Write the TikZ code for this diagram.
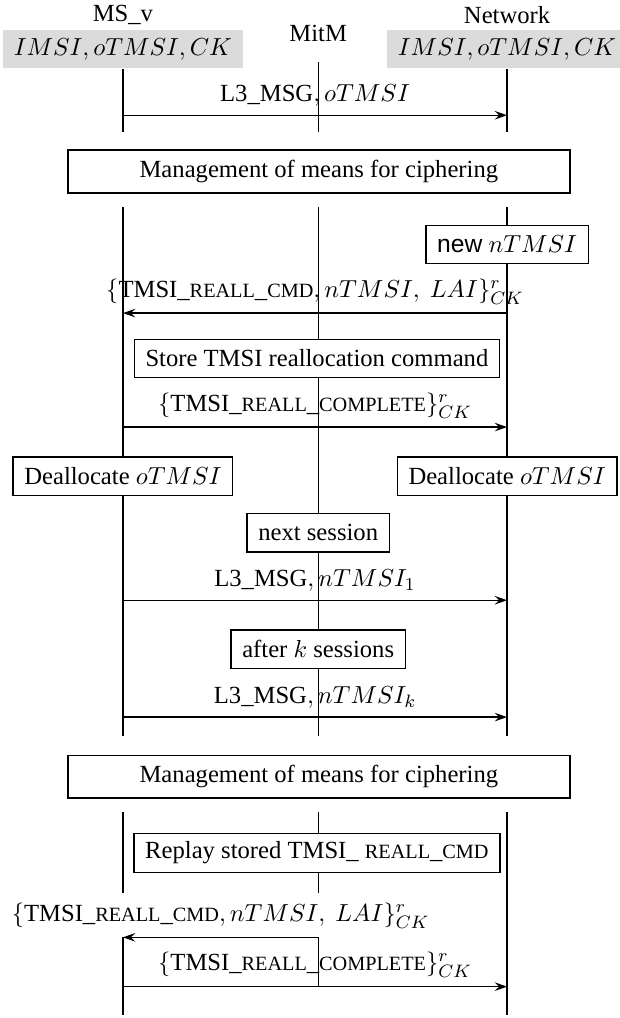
\documentclass[tikz,border=0pt,11pt]{standalone}
\usepackage[no-math]{fontspec}
\setmainfont{Liberation Serif}
\setsansfont{Liberation Sans}
\usetikzlibrary{arrows.meta}

\newcommand{\fsc}[1]{{\footnotesize #1}}

\begin{document}
\begin{tikzpicture}[
    box/.style={draw, line width=0.6pt, fill=white, inner xsep=5pt, minimum height=0.6cm},
    wide/.style={box, minimum width=7.84cm, minimum height=0.67cm},
    keys/.style={fill=black!14, inner xsep=5pt, minimum height=0.56cm},
    life/.style={line width=0.6pt},
    msg/.style={line width=0.6pt, -{Stealth[length=5.5pt,width=3.8pt,inset=2pt]}},
  ]
  \useasboundingbox (-1.92,-15.9) rectangle (7.75,0);

  % parties
  \node (ms) at (0,-0.23) {MS\_v};
  \node (mitm) at (3.05,-0.52) {MitM};
  \node (nw) at (6,-0.23) {Network};
  \node[keys] (mskeys) at (0,-0.77) {$IMSI, oTMSI, CK$};
  \node[keys] (nwkeys) at (6,-0.77) {$IMSI, oTMSI, CK$};

  % first phase
  \coordinate (mitm-top) at (3.05,-0.97);
  \coordinate (ms-end) at (0,-2.06);
  \coordinate (mitm-end) at (3.05,-2.06);
  \coordinate (nw-end) at (6,-2.06);
  \draw[life] (mskeys.south) -- (ms-end);
  \draw[life] (mitm-top) -- (mitm-end);
  \draw[life] (nwkeys.south) -- (nw-end);

  \coordinate (m1s) at (0,-1.8);
  \coordinate (m1e) at (6,-1.8);
  \draw[msg] (m1s) -- node[above] {L3\_MSG$, oTMSI$} (m1e);

  \node[wide] (mgmt1) at (3.06,-2.68) {Management of means for ciphering};

  % second phase
  \foreach \n/\x in {ms/0, mitm/3.05, nw/6} {
    \coordinate (\n-a) at (\x,-3.23);
    \coordinate (\n-b) at (\x,-11.5);
    \draw[life] (\n-a) -- (\n-b);
  }

  \node[box] (newtmsi) at (6,-3.82) {\textsf{new} $nTMSI$};

  \coordinate (m2s) at (6,-4.89);
  \coordinate (m2e) at (0,-4.89);
  \draw[msg] (m2s) -- node[above]
    {$\{\mbox{TMSI\_\fsc{REALL}\_\fsc{CMD}}, nTMSI,\ LAI\}^r_{CK}$} (m2e);

  \node[box] (store) at (3.03,-5.6) {Store TMSI reallocation command};

  \coordinate (m3s) at (0,-6.67);
  \coordinate (m3e) at (6,-6.67);
  \draw[msg] (m3s) -- node[above]
    {$\{\mbox{TMSI\_\fsc{REALL}\_\fsc{COMPLETE}}\}^r_{CK}$} (m3e);

  \node[box] (deallocms) at (0,-7.44) {Deallocate $oTMSI$};
  \node[box] (deallocnw) at (6,-7.44) {Deallocate $oTMSI$};

  \node[box] (next) at (3.05,-8.32) {next session};

  \coordinate (m4s) at (0,-9.375);
  \coordinate (m4e) at (6,-9.375);
  \draw[msg] (m4s) -- node[above] {L3\_MSG$, nTMSI_1$} (m4e);

  \node[box] (afterk) at (3.05,-10.14) {after $k$ sessions};

  \coordinate (m5s) at (0,-11.2);
  \coordinate (m5e) at (6,-11.2);
  \draw[msg] (m5s) -- node[above] {L3\_MSG$, nTMSI_k$} (m5e);

  \node[wide] (mgmt2) at (3.06,-12.13) {Management of means for ciphering};

  % replay phase
  \coordinate (ms-c) at (0,-12.69);
  \coordinate (ms-d) at (0,-13.94);
  \coordinate (mitm-c) at (3.05,-12.69);
  \coordinate (mitm-d) at (3.05,-13.94);
  \coordinate (nw-c) at (6,-12.69);
  \coordinate (nw-d) at (6,-15.86);
  \coordinate (m6s) at (3.05,-14.64);
  \coordinate (m6e) at (0,-14.64);
  \coordinate (m7s) at (0,-15.41);
  \coordinate (m7e) at (6,-15.41);
  \coordinate (ms-e) at (0,-15.86);
  \draw[life] (ms-c) -- (ms-d);
  \draw[life] (mitm-c) -- (mitm-d);
  \draw[life] (nw-c) -- (nw-d);
  \draw[life] (m6e) -- (ms-e);
  \draw[life] (m6s) -- (m6s |- m7s);

  \node[box] (replay) at (3.03,-13.32) {Replay stored TMSI\_ \fsc{REALL}\_\fsc{CMD}};

  \draw[msg] (m6s) -- node[above]
    {$\{\mbox{TMSI\_\fsc{REALL}\_\fsc{CMD}}, nTMSI,\ LAI\}^r_{CK}$} (m6e);
  \draw[msg] (m7s) -- node[above]
    {$\{\mbox{TMSI\_\fsc{REALL}\_\fsc{COMPLETE}}\}^r_{CK}$} (m7e);
\end{tikzpicture}
\end{document}
